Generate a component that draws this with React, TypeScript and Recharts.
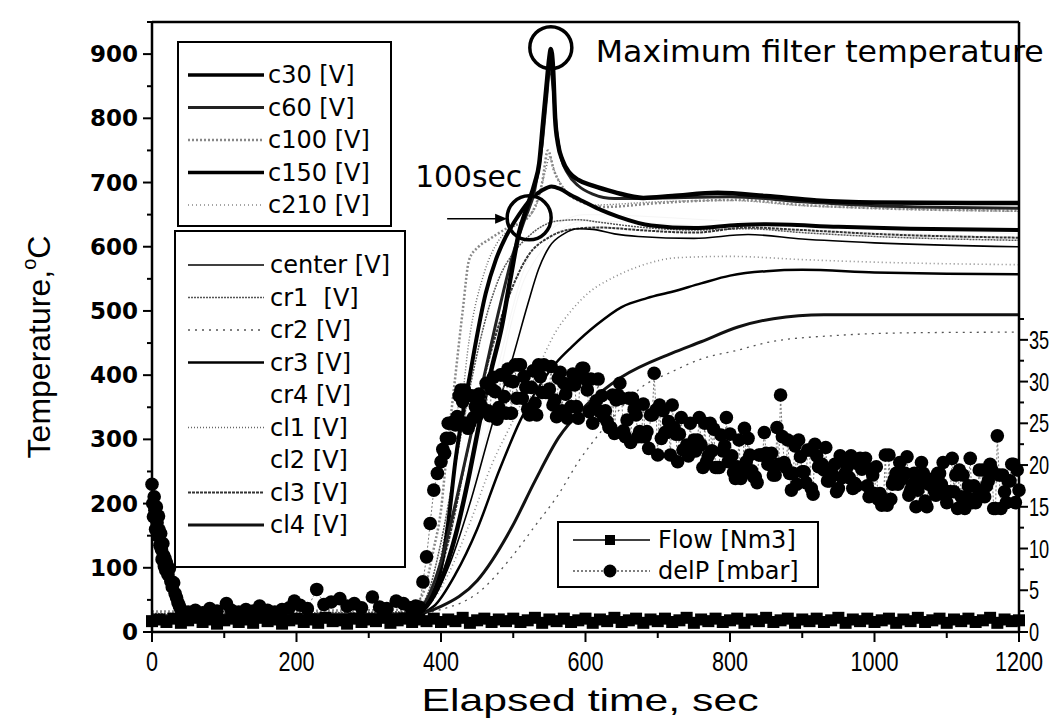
import React from 'react';
import { ComposedChart, Line, XAxis, YAxis, ReferenceLine, ReferenceDot, Legend } from 'recharts';

// plot frame (px)
const CHART_W = 1052;
const CHART_H = 720;
const PLOT_LEFT = 152;
const PLOT_RIGHT = 1019;
const PLOT_TOP = 22;
const PLOT_BOTTOM = 632;

type Pt = [number, number];

// tick values
const timeTicks = [0, 100, 200, 300, 400, 500, 600, 700, 800, 900, 1000, 1100, 1200];
const tempTicks = [0, 50, 100, 150, 200, 250, 300, 350, 400, 450, 500, 550, 600, 650, 700, 750, 800, 850, 900, 950];
const delPTicks = [0, 2.5, 5, 7.5, 10, 12.5, 15, 17.5, 20, 22.5, 25, 27.5, 30, 32.5, 35, 37.5];

// temperature curves [time s, °C]
const c30: Pt[] = [[0,22],[200,24],[360,26],[380,40],[400,80],[420,150],[440,250],[452,319],[470,410],[484,475],[496,550],[508,622],[520,665],[530,700],[536,730],[541,790],[546,850],[550,895],[552,908],[555,880],[558,800],[562,760],[568,735],[578,715],[590,704],[610,695],[640,685],[680,676],[720,679],[783,684],[850,679],[920,672],[1000,669],[1200,668]];
const c60: Pt[] = [[0,25],[200,27],[360,29],[380,50],[400,110],[420,200],[440,300],[460,400],[480,500],[500,590],[515,640],[530,690],[540,760],[546,830],[551,880],[555,850],[560,780],[566,740],[575,715],[590,695],[610,682],[640,675],[700,676],[800,678],[900,670],[1000,664],[1200,660]];
const c100: Pt[] = [[0,32],[200,33],[355,35],[375,60],[390,130],[400,190],[407,267],[420,400],[430,500],[439,580],[452,600],[466,611],[490,628],[520,645],[540,700],[548,750],[556,720],[570,690],[590,672],[627,662],[700,668],[811,673],[900,665],[1000,660],[1200,656]];
const c150: Pt[] = [[0,20],[200,22],[360,25],[380,45],[400,100],[410,170],[420,267],[440,400],[462,528],[476,580],[490,616],[508,650],[525,675],[540,688],[553,694],[565,690],[580,680],[600,669],[622,657],[645,647],[691,633],[750,629],[811,634],[850,635],[950,631],[1050,628],[1200,626]];
const c210: Pt[] = [[0,30],[200,31],[360,33],[385,45],[410,90],[440,170],[470,260],[500,330],[535,413],[558,466],[580,500],[604,528],[640,553],[673,569],[728,583],[800,585],[900,580],[1000,576],[1200,572]];
const center: Pt[] = [[0,24],[200,25],[360,27],[385,45],[410,100],[440,200],[470,320],[500,430],[520,510],[535,565],[550,600],[570,620],[590,628],[610,627],[640,620],[673,616],[750,613],[825,619],[900,612],[1000,606],[1200,600]];
const cr1: Pt[] = [[0,28],[200,29],[360,31],[380,55],[400,140],[420,260],[440,380],[460,480],[480,550],[500,590],[520,615],[540,632],[560,640],[590,642],[620,638],[680,630],[750,626],[825,628],[900,622],[1000,616],[1200,610]];
const cr2: Pt[] = [[0,26],[200,27],[360,28],[400,35],[450,60],[500,120],[530,165],[563,215],[590,265],[620,310],[650,350],[673,377],[719,405],[760,425],[811,439],[852,451],[950,462],[1050,466],[1200,467]];
const cr3: Pt[] = [[0,23],[200,24],[360,26],[390,40],[420,90],[450,160],[480,250],[510,330],[540,390],[560,420],[581,444],[615,478],[650,506],[685,520],[720,530],[760,543],[800,555],[850,562],[900,564],[1000,560],[1100,558],[1200,557]];
const cr4: Pt[] = [[0,26],[360,28],[380,40],[450,250],[520,560],[600,640],[800,630],[1200,615]];
const cl1: Pt[] = [[0,29],[200,30],[360,32],[385,60],[405,150],[420,260],[439,455],[460,560],[480,610],[500,630],[530,660],[545,720],[550,740],[558,715],[575,685],[610,665],[700,670],[800,672],[900,664],[1000,660],[1200,655]];
const cl2: Pt[] = [[0,27],[360,29],[390,60],[460,330],[530,600],[600,650],[800,640],[1200,620]];
const cl3: Pt[] = [[0,25],[200,26],[360,28],[385,50],[410,140],[440,300],[470,440],[500,540],[520,585],[550,615],[580,627],[620,630],[673,626],[750,622],[825,630],[900,626],[1000,620],[1200,614]];
const cl4: Pt[] = [[0,24],[200,25],[360,27],[400,40],[450,80],[498,163],[530,235],[563,303],[600,352],[650,397],[719,434],[760,452],[811,475],[860,488],[930,494],[1000,494],[1200,494]];

// flow [time s, right axis]
const flow: Pt[] = [[0,1.3],[10,1.5],[20,1.2],[30,1.6],[40,1.1],[50,1.4],[60,1.7],[70,1.2],[80,1.5],[90,1.0],[100,1.4],[110,1.6],[120,1.2],[130,1.5],[140,1.1],[150,1.7],[160,1.3],[170,1.5],[180,1.0],[190,1.4],[200,1.6],[210,1.2],[220,1.5],[230,1.1],[240,1.7],[250,1.3],[260,1.4],[270,1.0],[280,1.6],[290,1.2],[300,1.5],[310,1.3],[320,1.7],[330,1.1],[340,1.4],[350,1.6],[360,1.2],[370,1.5],[380,1.3],[390,1.6],[400,1.2],[410,1.5],[420,1.3],[430,1.7],[440,1.1],[450,1.4],[460,1.6],[470,1.2],[480,1.5],[490,1.3],[500,1.6],[510,1.2],[520,1.4],[530,1.7],[540,1.1],[550,1.5],[560,1.3],[570,1.6],[580,1.2],[590,1.4],[600,1.6],[610,1.1],[620,1.5],[630,1.3],[640,1.7],[650,1.2],[660,1.4],[670,1.6],[680,1.1],[690,1.5],[700,1.3],[710,1.6],[720,1.2],[730,1.4],[740,1.7],[750,1.1],[760,1.5],[770,1.3],[780,1.6],[790,1.2],[800,1.4],[810,1.6],[820,1.1],[830,1.5],[840,1.3],[850,1.7],[860,1.2],[870,1.4],[880,1.6],[890,1.1],[900,1.5],[910,1.3],[920,1.6],[930,1.2],[940,1.4],[950,1.7],[960,1.1],[970,1.5],[980,1.3],[990,1.6],[1000,1.2],[1010,1.4],[1020,1.6],[1030,1.1],[1040,1.5],[1050,1.3],[1060,1.7],[1070,1.2],[1080,1.4],[1090,1.6],[1100,1.1],[1110,1.5],[1120,1.3],[1130,1.6],[1140,1.2],[1150,1.4],[1160,1.7],[1170,1.1],[1180,1.5],[1190,1.3],[1200,1.4]];

// pressure drop [time s, mbar]
const delP: Pt[] = [[0,17.7],[1,15.4],[2,13.8],[3,16.2],[4,14.6],[5,12.3],[6,15.0],[7,13.1],[8,11.5],[9,13.9],[10,12.2],[11,10.4],[12,11.8],[13,9.9],[14,8.7],[15,10.6],[16,9.2],[17,7.9],[18,8.8],[19,7.4],[20,8.3],[22,6.9],[24,7.6],[26,6.1],[28,5.4],[30,5.9],[32,4.6],[34,4.1],[36,3.5],[38,3.1],[40,2.7],
[50,2.4],[60,2.6],[70,2.3],[80,2.8],[90,2.5],[103,3.4],[110,2.6],[120,2.4],[130,2.7],[140,2.5],[149,3.1],[160,2.6],[170,2.4],[180,2.7],[190,2.9],[197,3.7],[205,3.2],[215,2.8],[228,5.1],[238,3.3],[248,3.6],[260,4.0],[270,3.1],[280,3.4],[290,2.9],[305,4.2],[315,3.0],[325,2.8],[338,3.7],[348,3.4],[358,2.9],[365,3.1],
[370,3],[375,6],[380,9],[385,13],[390,17],[395,19],
[400,20.4],[402.5,21.9],[405,21.4],[407.5,23.2],[410,25.0],[412.5,23.2],[415,25.0],[417.5,25.2],[420,24.8],[422.5,25.8],
[425,28.3],[427.5,29.0],[430,27.6],[432.5,29.0],[435,25.0],[437.5,24.4],[440,25.0],[442.5,28.3],[445,25.7],[447.5,27.0],
[450,25.9],[452.5,28.5],[455,27.2],[457.5,26.5],[460,26.5],[462.5,29.8],[465,26.5],[467.5,25.9],[470,29.1],[472.5,30.5],
[475,28.8],[477.5,25.5],[480,26.9],[482.5,30.8],[485,30.8],[487.5,28.2],[490,26.2],[492.5,31.5],[495,30.1],[497.5,26.2],
[500,30.0],[502.5,32.0],[505,28.0],[507.5,32.0],[510,32.0],[512.5,28.0],[515,30.6],[517.5,29.3],[520,26.7],[522.5,26.0],
[525,29.3],[527.5,31.3],[530,27.4],[532.5,26.0],[535,32.0],[537.5,30.6],[540,28.7],[542.5,32.0],[545,28.7],[547.5,28.7],
[550,29.1],[552.5,31.8],[555,27.2],[557.5,27.8],[560,25.8],[562.5,30.4],[565,31.1],[567.5,26.5],[570,29.8],[572.5,28.5],
[575,25.6],[577.5,29.6],[580,27.0],[582.5,30.9],[585,29.6],[587.5,27.0],[590,25.6],[592.5,30.9],[595,31.6],[597.5,31.6],
[600,30.3],[602.5,29.0],[605,26.4],[607.5,30.3],[610,25.0],[612.5,27.0],[615,27.7],[617.5,30.3],[620,26.4],[622.5,28.3],
[625,25.8],[627.5,26.5],[630,25.2],[632.5,24.5],[635,24.5],[637.5,28.4],[640,23.8],[642.5,27.8],[645,28.4],[647.5,29.8],
[650,28.0],[652.5,24.1],[655,23.4],[657.5,25.4],[660,28.0],[662.5,22.7],[665,28.0],[667.5,26.7],[670,26.0],[672.5,23.4],
[675,24.0],[677.5,23.4],[680,27.3],[682.5,23.4],[685,24.0],[687.5,22.0],[690,26.0],[692.5,26.0],[695,31.0],[697.5,26.6],
[700,21.2],[702.5,27.2],[705,23.2],[707.5,26.5],[710,23.9],[712.5,23.9],[715,25.2],[717.5,21.2],[720,27.2],[722.5,24.5],
[725,23.7],[727.5,20.4],[730,23.7],[732.5,25.7],[735,21.8],[737.5,21.8],[740,22.4],[742.5,21.1],[745,25.0],[747.5,21.8],
[750,23.0],[752.5,21.7],[755,23.0],[757.5,25.7],[760,22.4],[762.5,19.7],[765,25.0],[767.5,20.4],[770,21.1],[772.5,25.0],
[775,21.7],[777.5,24.3],[780,19.7],[782.5,19.7],[785,19.7],[787.5,23.6],[790,21.7],[792.5,22.3],[795,25.7],[797.5,20.4],
[800,23.7],[802.5,21.1],[805,19.1],[807.5,18.4],[810,19.8],[812.5,23.0],[815,18.4],[817.5,19.1],[820,24.4],[822.5,20.4],
[825,23.2],[827.5,21.2],[830,19.3],[832.5,18.6],[835,18.6],[837.5,17.9],[840,21.2],[842.5,21.2],[845,21.2],[847.5,23.9],
[850,21.4],[852.5,20.1],[855,20.1],[857.5,21.4],[860,18.8],[862.5,18.8],[865,24.5],[867.5,20.1],[870,28.4],[872.5,23.4],
[875,20.3],[877.5,19.7],[880,23.0],[882.5,19.0],[885,17.0],[887.5,19.0],[890,22.3],[892.5,17.7],[895,23.0],[897.5,21.0],
[900,19.2],[902.5,19.2],[905,17.9],[907.5,21.8],[910,21.8],[912.5,17.2],[915,16.5],[917.5,22.5],[920,21.1],[922.5,19.8],
[925,20.1],[927.5,20.1],[930,19.4],[932.5,22.1],[935,18.1],[937.5,18.1],[940,18.8],[942.5,18.8],[945,20.1],[947.5,16.8],
[950,17.2],[952.5,21.1],[955,18.5],[957.5,20.4],[960,19.1],[962.5,19.8],[965,18.5],[967.5,21.1],[970,17.2],[972.5,17.8],
[975,17.5],[977.5,20.1],[980,20.8],[982.5,19.5],[985,20.1],[987.5,20.8],[990,17.5],[992.5,16.2],[995,19.5],[997.5,18.8],
[1000,16.6],[1002.5,19.8],[1005,15.9],[1007.5,16.6],[1010,15.2],[1012.5,15.9],[1015,21.2],[1017.5,15.2],[1020,21.2],[1022.5,15.9],
[1025,17.7],[1027.5,18.3],[1030,19.0],[1032.5,17.7],[1035,20.3],[1037.5,18.3],[1040,19.0],[1042.5,19.0],[1045,21.0],[1047.5,16.4],
[1050,17.0],[1052.5,17.7],[1055,19.0],[1057.5,15.0],[1060,17.0],[1062.5,17.7],[1065,20.3],[1067.5,19.0],[1070,15.7],[1072.5,15.0],
[1075,17.7],[1077.5,18.3],[1080,17.7],[1082.5,17.0],[1085,16.4],[1087.5,19.0],[1090,19.0],[1092.5,17.7],[1095,20.3],[1097.5,16.4],
[1100,15.5],[1102.5,16.8],[1105,16.8],[1107.5,20.8],[1110,16.8],[1112.5,18.8],[1115,14.8],[1117.5,19.4],[1120,16.2],[1122.5,18.8],
[1125,14.8],[1127.5,16.2],[1130,17.5],[1132.5,20.8],[1135,15.5],[1137.5,17.5],[1140,15.5],[1142.5,16.2],[1145,19.4],[1147.5,16.8],
[1150,19.4],[1152.5,16.2],[1155,17.5],[1157.5,18.1],[1160,20.1],[1162.5,19.4],[1165,14.8],[1167.5,14.8],[1170,23.5],[1172.5,18.8],
[1175,14.8],[1177.5,18.8],[1180,16.8],[1182.5,15.5],[1185,18.1],[1187.5,18.1],[1190,20.1],[1192.5,20.1],[1195,15.5],[1197.5,19.4],[1200,17.0]];

// annotation anchors
const PEAK: Pt = [552, 910];
const MARK_100S: Pt = [522, 645];

const tempSeries = [
  { name: 'c30 [V]', pts: c30, color: '#000', width: 4.5, dash: undefined as string | undefined, group: 1 },
  { name: 'c60 [V]', pts: c60, color: '#222', width: 3, dash: undefined, group: 1 },
  { name: 'c100 [V]', pts: c100, color: '#888', width: 2.5, dash: '2 2', group: 1 },
  { name: 'c150 [V]', pts: c150, color: '#000', width: 4, dash: undefined, group: 1 },
  { name: 'c210 [V]', pts: c210, color: '#888', width: 1.6, dash: '1 3', group: 1 },
  { name: 'center [V]', pts: center, color: '#000', width: 1.6, dash: undefined, group: 2 },
  { name: 'cr1  [V]', pts: cr1, color: '#555', width: 1.5, dash: '2 1', group: 2 },
  { name: 'cr2 [V]', pts: cr2, color: '#555', width: 1.3, dash: '2 5', group: 2 },
  { name: 'cr3 [V]', pts: cr3, color: '#000', width: 2.5, dash: undefined, group: 2 },
  { name: 'cr4 [V]', pts: cr4, color: '#f6f6f6', width: 1, dash: undefined, group: 2 },
  { name: 'cl1 [V]', pts: cl1, color: '#666', width: 1.4, dash: '1 2', group: 2 },
  { name: 'cl2 [V]', pts: cl2, color: '#f6f6f6', width: 1, dash: undefined, group: 2 },
  { name: 'cl3 [V]', pts: cl3, color: '#333', width: 2, dash: '3 1', group: 2 },
  { name: 'cl4 [V]', pts: cl4, color: '#111', width: 3, dash: undefined, group: 2 },
];

// invisible channels underneath, thick ones on top
const drawOrder = ['cr4 [V]', 'cl2 [V]', 'c210 [V]', 'cr2 [V]', 'cl1 [V]', 'c100 [V]', 'cr1  [V]', 'cl3 [V]', 'center [V]', 'cr3 [V]', 'cl4 [V]', 'c150 [V]', 'c60 [V]', 'c30 [V]'];

const toRows = (pts: Pt[]) => pts.map(([t, v]) => ({ t, v }));

const WIDE_FONT = '"DejaVu Sans", sans-serif';
const ARIAL = '"Liberation Sans", Arial, sans-serif';

const LeftTick = (props: any) => {
  const { y, payload } = props;
  const v = payload.value;
  const major = v % 100 === 0;
  return (
    <g>
      <line x1={PLOT_LEFT - (major ? 9 : 5)} x2={PLOT_LEFT} y1={y} y2={y} stroke="#000" strokeWidth={2} />
      {major && v <= 900 && (
        <text x={PLOT_LEFT - 14} y={y + 8} textAnchor="end" fontFamily={WIDE_FONT} fontWeight="bold" fontSize={23} fill="#000">{v}</text>
      )}
    </g>
  );
};

const BottomTick = (props: any) => {
  const { x, payload } = props;
  const v = payload.value;
  const major = v % 200 === 0;
  return (
    <g>
      <line x1={x} x2={x} y1={PLOT_BOTTOM} y2={PLOT_BOTTOM + (major ? 10 : 6)} stroke="#000" strokeWidth={2} />
      {major && (
        <text transform={`translate(${x}, 671) scale(0.8, 1)`} textAnchor="middle" fontFamily={ARIAL} fontSize={27} fill="#000">{v}</text>
      )}
    </g>
  );
};

// narrow glyphs so the two-digit labels stay inside the 1052px window
const RightTick = (props: any) => {
  const { y, payload } = props;
  const v = payload.value;
  const major = v % 5 === 0;
  return (
    <g>
      <line x1={PLOT_RIGHT} x2={PLOT_RIGHT + (major ? 9 : 5)} y1={y} y2={y} stroke="#000" strokeWidth={2} />
      {major && (
        <text transform={`translate(${PLOT_RIGHT + 10}, ${y + 9}) scale(0.7, 1)`} textAnchor="start" fontFamily={ARIAL} fontSize={26} fill="#000">{v}</text>
      )}
    </g>
  );
};

const SquareDot = (props: any) => {
  const { cx, cy, index } = props;
  if (cx == null || cy == null) return <g key={index} />;
  return <rect key={index} x={cx - 6} y={cy - 6} width={12} height={12} fill="#000" />;
};

const CircleDot = (props: any) => {
  const { cx, cy, index } = props;
  if (cx == null || cy == null) return <g key={index} />;
  return <circle key={index} cx={cx} cy={cy} r={6.8} fill="#000" />;
};

const Sample = ({ x, y, s }: { x: number; y: number; s: (typeof tempSeries)[number] }) => (
  <line x1={x} x2={x + 76} y1={y} y2={y} stroke={s.color === '#f6f6f6' ? 'none' : s.color} strokeWidth={Math.min(s.width, 3.5)} strokeDasharray={s.dash} />
);

const Legends = () => {
  const g1 = tempSeries.filter((s) => s.group === 1);
  const g2 = tempSeries.filter((s) => s.group === 2);
  return (
    <svg width={CHART_W} height={CHART_H} style={{ position: 'absolute', left: 0, top: 0 }}>
      <rect x={178} y={42} width={213} height={184} fill="#fff" stroke="#000" strokeWidth={2} />
      {g1.map((s, i) => {
        const y = 75 + i * 32.5;
        return (
          <g key={s.name}>
            <Sample x={188} y={y} s={s} />
            <text x={268} y={y + 8} fontFamily={WIDE_FONT} fontSize={24} fill="#000">{s.name}</text>
          </g>
        );
      })}
      <rect x={175} y={231} width={230} height={336} fill="#fff" stroke="#000" strokeWidth={2} />
      {g2.map((s, i) => {
        const y = 265 + i * 32.5;
        return (
          <g key={s.name}>
            <Sample x={188} y={y} s={s} />
            <text x={270} y={y + 8} fontFamily={WIDE_FONT} fontSize={24} fill="#000" style={{ whiteSpace: 'pre' }}>{s.name}</text>
          </g>
        );
      })}
      <rect x={558} y={522} width={260} height={65} fill="#fff" stroke="#000" strokeWidth={2} />
      <line x1={573} x2={650} y1={540} y2={540} stroke="#000" strokeWidth={1.5} />
      <rect x={605} y={535} width={10} height={10} fill="#000" />
      <text x={658} y={548} fontFamily={WIDE_FONT} fontSize={24} fill="#000">Flow [Nm3]</text>
      <line x1={573} x2={650} y1={571} y2={571} stroke="#555" strokeWidth={1.5} strokeDasharray="2 2" />
      <circle cx={610} cy={571} r={6.5} fill="#000" />
      <text x={658} y={579} fontFamily={WIDE_FONT} fontSize={24} fill="#000">delP [mbar]</text>
    </svg>
  );
};

const PeakMark = (props: any) => {
  const { cx, cy } = props;
  return (
    <g>
      <circle cx={cx} cy={cy} r={21} fill="none" stroke="#000" strokeWidth={3.5} />
      <text x={cx + 45} y={cy + 14} fontFamily={WIDE_FONT} fontSize={30} textLength={448} lengthAdjust="spacingAndGlyphs" fill="#000">Maximum filter temperature</text>
    </g>
  );
};

const HundredMark = (props: any) => {
  const { cx, cy } = props;
  return (
    <g>
      <circle cx={cx} cy={cy} r={22} fill="none" stroke="#000" strokeWidth={3.5} />
      <text x={cx - 114} y={cy - 31} fontFamily={WIDE_FONT} fontSize={30} textLength={107} lengthAdjust="spacingAndGlyphs" fill="#000">100sec</text>
      <line x1={cx - 82} x2={cx - 30} y1={cy + 1} y2={cy + 1} stroke="#000" strokeWidth={1.5} />
      <path d={`M ${cx - 22} ${cy + 1} L ${cx - 34} ${cy - 4} L ${cx - 34} ${cy + 6} Z`} fill="#000" />
    </g>
  );
};

const YTitle = () => (
  <text x={0} y={0} transform="translate(50, 347) rotate(-90)" textAnchor="middle" fontFamily={ARIAL} fontSize={32} fill="#000">
    Temperature,<tspan dy={-14} fontSize={20}>o</tspan><tspan dy={14}>C</tspan>
  </text>
);

const XTitle = () => (
  <text x={590} y={711} textAnchor="middle" fontFamily={ARIAL} fontSize={32} textLength={337} lengthAdjust="spacingAndGlyphs" fill="#000">Elapsed time, sec</text>
);

export default function App() {
  const ordered = drawOrder.map((n) => tempSeries.find((s) => s.name === n)!);
  return (
    <div style={{ position: 'fixed', left: 0, top: 0, width: 1052, height: 720, overflow: 'hidden', background: '#fff' }}>
      <ComposedChart width={CHART_W} height={CHART_H} margin={{ top: PLOT_TOP, right: CHART_W - PLOT_RIGHT - 33, left: 0, bottom: 0 }}>
        <XAxis
          xAxisId="b"
          dataKey="t"
          type="number"
          domain={[0, 1200]}
          ticks={timeTicks}
          interval={0}
          height={CHART_H - PLOT_BOTTOM}
          axisLine={{ stroke: '#000', strokeWidth: 2.5 }}
          tickLine={false}
          tick={<BottomTick />}
          label={{ content: () => <XTitle /> }}
          allowDuplicatedCategory={false}
        />
        <YAxis
          yAxisId="t"
          type="number"
          domain={[0, 950]}
          ticks={tempTicks}
          interval={0}
          width={PLOT_LEFT}
          axisLine={{ stroke: '#000', strokeWidth: 2.5 }}
          tickLine={false}
          tick={<LeftTick />}
          label={{ content: () => <YTitle /> }}
        />
        <YAxis
          yAxisId="p"
          orientation="right"
          type="number"
          domain={[0, 950 / 13]}
          ticks={delPTicks}
          interval={0}
          width={33}
          axisLine={{ stroke: '#000', strokeWidth: 2.5 }}
          tickLine={false}
          tick={<RightTick />}
        />
        <ReferenceLine xAxisId="b" yAxisId="t" y={950} stroke="#000" strokeWidth={2.5} ifOverflow="visible" />

        {ordered.map((s) => (
          <Line
            key={s.name}
            xAxisId="b"
            yAxisId="t"
            data={toRows(s.pts)}
            dataKey="v"
            name={s.name}
            type="monotone"
            stroke={s.color}
            strokeWidth={s.width}
            strokeDasharray={s.dash}
            dot={false}
            activeDot={false}
            isAnimationActive={false}
          />
        ))}

        <Line
          xAxisId="b"
          yAxisId="p"
          data={toRows(delP)}
          dataKey="v"
          name="delP [mbar]"
          type="linear"
          stroke="#555"
          strokeWidth={0.8}
          strokeDasharray="2 2"
          dot={<CircleDot />}
          activeDot={false}
          isAnimationActive={false}
        />
        <Line
          xAxisId="b"
          yAxisId="p"
          data={toRows(flow)}
          dataKey="v"
          name="Flow [Nm3]"
          type="linear"
          stroke="#000"
          strokeWidth={1.5}
          dot={<SquareDot />}
          activeDot={false}
          isAnimationActive={false}
        />

        <ReferenceDot xAxisId="b" yAxisId="t" x={PEAK[0]} y={PEAK[1]} r={21} shape={<PeakMark />} ifOverflow="visible" />
        <ReferenceDot xAxisId="b" yAxisId="t" x={MARK_100S[0]} y={MARK_100S[1]} r={22} shape={<HundredMark />} ifOverflow="visible" />

        <Legend
          layout="vertical"
          align="center"
          verticalAlign="middle"
          wrapperStyle={{ left: 0, top: 0, width: CHART_W, height: CHART_H, pointerEvents: 'none' }}
          content={() => <Legends />}
        />
      </ComposedChart>
    </div>
  );
}
